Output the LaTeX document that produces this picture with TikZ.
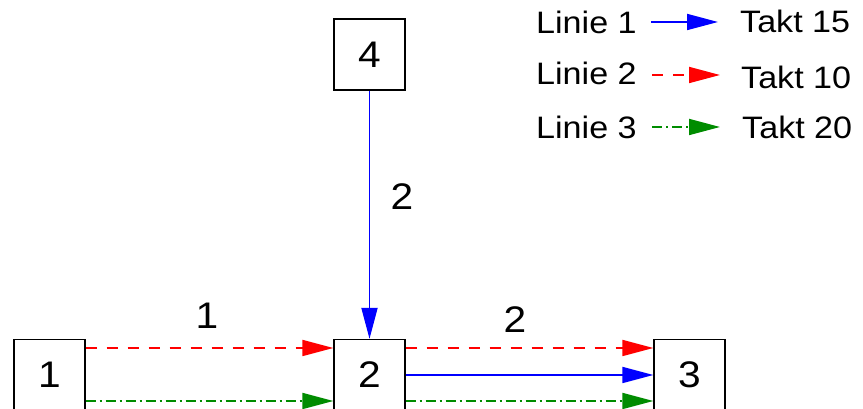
\documentclass[tikz,border=0pt]{standalone}
\usepackage{fontspec}
\setmainfont[FakeStretch=1.1]{Liberation Sans}
\usetikzlibrary{arrows.meta}
\begin{document}
\begin{tikzpicture}[x=1pt,y=1pt,
  station/.style={draw,line width=1.3pt,minimum size=71pt,inner sep=0pt,font=\fontsize{37}{44}\selectfont},
  qty/.style={inner sep=0pt,font=\fontsize{37}{44}\selectfont},
  lbl/.style={inner sep=0pt,font=\fontsize{31}{37}\selectfont},
  tip/.style={-{Triangle[length=31pt,width=16pt]}},
  line1/.style={tip,blue,line width=1.8pt},
  line2/.style={tip,red,line width=1.8pt,dash pattern=on 11pt off 10pt},
  line3/.style={tip,green!55!black,line width=1.8pt,dash pattern=on 10pt off 4pt on 2pt off 4pt}]
\useasboundingbox (0,0) rectangle (863,409);
\clip (0,0) rectangle (863,409);
% stations
\node[station] (s1) at (49.5,34) {1};
\node[station] (s2) at (369.5,34) {2};
\node[station] (s3) at (689.5,34) {3};
\node[station] (s4) at (369.5,354.5) {4};
% connections between stations
\draw[line2] ([yshift=27pt]s1.east) -- ([yshift=27pt]s2.west);
\draw[line3] ([yshift=-26pt]s1.east) -- ([yshift=-26pt]s2.west);
\draw[line2] ([yshift=27pt]s2.east) -- ([yshift=27pt]s3.west);
\draw[line1] (s2.east) -- (s3.west);
\draw[line3] ([yshift=-26pt]s2.east) -- ([yshift=-26pt]s3.west);
\draw[line1] (s4.south) -- (s2.north);
% quantities on the connections
\node[qty] (q12) at (207,93) {1};
\node[qty] (q23) at (515,89) {2};
\node[qty] (q42) at (402,212) {2};
% legend
\node[lbl,anchor=west] (l1) at (536,387) {Linie 1};
\node[lbl,anchor=west] (l2) at (536,336) {Linie 2};
\node[lbl,anchor=west] (l3) at (536,282) {Linie 3};
\node[lbl,anchor=west] (t1) at (740,388) {Takt 15};
\node[lbl,anchor=west] (t2) at (741,332) {Takt 10};
\node[lbl,anchor=west] (t3) at (742,282) {Takt 20};
\coordinate (k1) at (651,387);
\coordinate (e1) at (718,387);
\coordinate (k2) at (652,334);
\coordinate (e2) at (720,334);
\coordinate (k3) at (652,282);
\coordinate (e3) at (720,282);
\draw[line1] (k1) -- (e1);
\draw[line2] (k2) -- (e2);
\draw[line3] (k3) -- (e3);
\end{tikzpicture}
\end{document}
